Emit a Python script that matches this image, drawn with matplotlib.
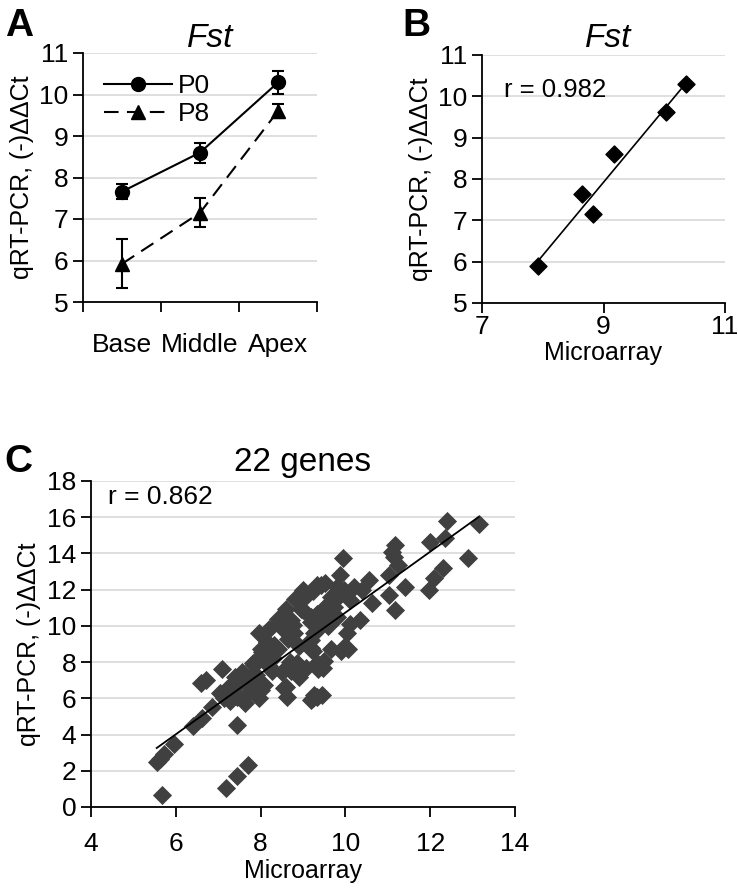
import numpy as np
import matplotlib
matplotlib.use("Agg")
import matplotlib.pyplot as plt

plt.rcParams['font.family'] = ['Liberation Sans', 'DejaVu Sans']

# panel A: Fst along the cochlea
regions = ['Base', 'Middle', 'Apex']
p0_mean = [7.66, 8.60, 10.29]
p0_err = [0.18, 0.24, 0.27]
p8_mean = [5.92, 7.15, 9.60]
p8_err = [0.59, 0.35, 0.17]

# panel B: Fst microarray vs qRT-PCR
fst_array = [7.93, 8.64, 8.82, 9.18, 10.03, 10.36]
fst_pcr = [5.90, 7.64, 7.16, 8.60, 9.62, 10.30]

# panel C: 22 genes
genes_array = [
    5.67, 7.19, 7.45, 7.70, 5.55, 5.62, 5.72, 5.95, 6.40, 6.62, 7.45, 6.85, 6.60, 6.72,
    7.10, 7.05, 7.20, 7.37, 7.50, 7.64, 7.29, 7.96, 8.00, 7.84, 7.13, 7.45, 7.76, 7.84,
    7.92, 8.08, 8.40, 8.20, 8.63, 9.23, 8.60, 8.71, 8.90, 9.07, 8.87, 9.35, 9.23, 8.28,
    9.33, 9.45, 9.33, 9.50, 9.65, 9.90, 10.05,
    12.40, 13.14, 12.35, 12.00, 12.88, 12.31, 12.08, 11.96, 11.18, 11.10, 11.14, 11.25,
    11.02, 11.41, 11.02, 11.18, 9.95, 9.87, 10.55, 10.63, 10.35, 10.12, 10.04, 9.96,
    9.33, 9.53, 9.80, 9.96, 10.20, 10.39, 9.65, 9.88, 10.12, 9.73, 9.53, 9.33, 9.49,
    9.33, 9.25,
    9.10, 8.90, 8.60, 8.99, 8.43, 7.96, 8.16, 8.00, 8.71, 8.79, 9.19, 9.34, 9.19,
    8.20, 8.40, 8.95, 9.42, 9.23, 9.50, 9.19, 8.77, 8.64, 8.32, 8.04, 7.81, 7.57,
    7.30, 7.38, 7.72, 8.07, 8.51, 8.70, 8.93, 9.19, 9.47, 9.27, 9.19, 8.55,
    7.60, 7.90, 8.20, 8.30, 7.40, 8.50, 8.80, 9.00, 9.20, 8.90, 9.60, 9.80,
]
genes_pcr = [
    0.65, 1.05, 1.70, 2.30, 2.50, 2.65, 2.90, 3.50, 4.50, 4.90, 4.55, 5.50, 6.85, 7.00,
    7.60, 6.30, 6.50, 6.65, 6.85, 5.73, 5.83, 6.00, 6.47, 6.56, 6.00, 6.10, 7.20, 7.85,
    8.10, 8.60, 8.70, 8.85, 6.10, 6.00, 6.65, 7.50, 7.20, 7.70, 7.95, 7.60, 8.60, 7.50,
    6.10, 6.20, 7.95, 8.05, 8.70, 8.60, 8.70,
    15.80, 15.65, 14.84, 14.65, 13.73, 13.18, 12.62, 11.98, 14.47, 14.10, 13.80, 13.36,
    12.80, 12.13, 11.70, 10.87, 13.73, 12.80, 12.53, 11.24, 10.32, 10.13, 9.58, 8.84,
    12.25, 12.35, 12.16, 11.98, 12.16, 11.98, 11.60, 11.70, 11.42, 11.05, 11.05, 10.68,
    10.32, 9.95, 9.58,
    11.70, 11.30, 10.96, 10.87, 10.20, 9.60, 9.10, 8.70, 10.30, 9.60, 8.70, 9.77, 10.50,
    9.85, 10.40, 10.96, 12.27, 11.90, 10.60, 10.24, 10.05, 9.30, 8.94, 8.57, 7.93, 7.47,
    6.74, 6.18, 6.37, 6.74, 7.47, 8.00, 7.66, 8.76, 7.66, 6.18, 5.90, 6.55,
    7.00, 7.30, 7.80, 8.20, 7.20, 9.90, 11.50, 12.00, 9.20, 8.90, 10.00, 10.50,
]

grid_col = '#d9d9d9'
W, H = 738, 889
tick_fs = 19
lab_fs = 18


def px_axes(fig, left, top, right, bottom):
    return fig.add_axes([left / W, 1 - bottom / H, (right - left) / W, (bottom - top) / H])


def style_axes(ax):
    ax.spines['top'].set_visible(False)
    ax.spines['right'].set_visible(False)
    for s in ['left', 'bottom']:
        ax.spines[s].set_linewidth(1.3)
    ax.yaxis.grid(True, color=grid_col, linewidth=1.2)
    ax.set_axisbelow(True)
    ax.tick_params(direction='out', length=7, width=1.3, labelsize=tick_fs)


fig = plt.figure(figsize=(W / 100, H / 100), dpi=100)

# ---- A ----
axA = px_axes(fig, 83, 53, 317, 302)
style_axes(axA)
xpos = np.arange(len(regions))
axA.errorbar(xpos, p0_mean, yerr=p0_err, color='black', marker='o', ms=10, lw=1.5,
             capsize=4, elinewidth=1.5, capthick=1.5, label='P0')
axA.errorbar(xpos, p8_mean, yerr=p8_err, color='black', marker='^', ms=10, lw=1.5,
             ls=(0, (7, 4)), capsize=4, elinewidth=1.5, capthick=1.5, label='P8')
axA.set_xlim(-0.5, 2.5)
axA.set_ylim(5, 11)
axA.set_yticks(range(5, 12))
axA.set_xticks([-0.5, 0.5, 1.5, 2.5])
axA.set_xticklabels([])
axA.set_xticks(xpos, minor=True)
axA.set_xticklabels(regions, minor=True)
axA.tick_params(axis='x', which='minor', length=0, pad=22, labelsize=tick_fs)
axA.set_ylabel('qRT-PCR, (-)ΔΔCt', fontsize=lab_fs, labelpad=4)
handles, labels = axA.get_legend_handles_labels()
handles = [h[0] for h in handles]
axA.legend(handles, labels, loc='upper left', frameon=False, fontsize=tick_fs,
           handlelength=2.6, borderaxespad=0.2, bbox_to_anchor=(0.02, 0.98),
           labelspacing=0.15, handletextpad=0.2)
fig.text(210 / W, 1 - 47 / H, 'Fst', fontsize=24, style='italic', ha='center', va='baseline')
fig.text(5 / W, 1 - 36 / H, 'A', fontsize=28, weight='bold', ha='left', va='baseline')

# ---- B ----
axB = px_axes(fig, 482, 55, 725, 303)
style_axes(axB)
axB.scatter(fst_array, fst_pcr, marker='D', s=75, color='black', zorder=3)
kb = np.polyfit(fst_array, fst_pcr, 1)
xb = np.array([min(fst_array), max(fst_array)])
axB.plot(xb, np.polyval(kb, xb), color='black', lw=1.2, zorder=2)
axB.set_xlim(7, 11)
axB.set_ylim(5, 11)
axB.set_xticks([7, 9, 11])
axB.set_yticks(range(5, 12))
axB.tick_params(axis='x', pad=2)
axB.set_xlabel('Microarray', fontsize=lab_fs, labelpad=1)
axB.set_ylabel('qRT-PCR, (-)ΔΔCt', fontsize=lab_fs, labelpad=4)
axB.text(0.09, 0.83, 'r = 0.982', transform=axB.transAxes, fontsize=18.5)
fig.text(608 / W, 1 - 47 / H, 'Fst', fontsize=24, style='italic', ha='center', va='baseline')
fig.text(402 / W, 1 - 36 / H, 'B', fontsize=28, weight='bold', ha='left', va='baseline')

# ---- C ----
axC = px_axes(fig, 91, 481, 515, 807)
style_axes(axC)
axC.scatter(genes_array, genes_pcr, marker='D', s=95, color='#404040', linewidths=0, zorder=3)
kc = np.polyfit(genes_array, genes_pcr, 1)
xc = np.array([min(genes_array), max(genes_array)])
axC.plot(xc, np.polyval(kc, xc), color='black', lw=1.3, zorder=4)
axC.set_xlim(4, 14)
axC.set_ylim(0, 18)
axC.set_xticks(range(4, 15, 2))
axC.set_yticks(range(0, 19, 2))
axC.tick_params(axis='x', pad=11)
axC.set_xlabel('Microarray', fontsize=lab_fs, labelpad=2)
axC.set_ylabel('qRT-PCR, (-)ΔΔCt', fontsize=lab_fs, labelpad=4)
axC.text(0.04, 0.93, 'r = 0.862', transform=axC.transAxes, fontsize=19)
fig.text(303 / W, 1 - 471 / H, '22 genes', fontsize=24, ha='center', va='baseline')
fig.text(4 / W, 1 - 472 / H, 'C', fontsize=28, weight='bold', ha='left', va='baseline')

fig.savefig('out.png', dpi=100)
